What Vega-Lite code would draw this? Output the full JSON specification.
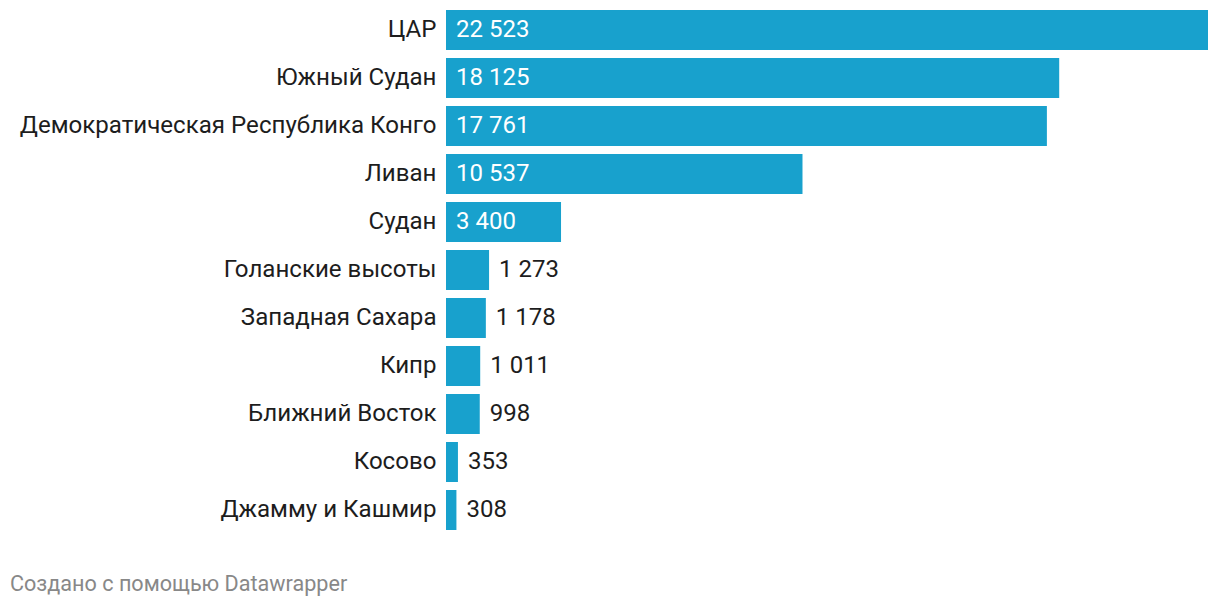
{
  "$schema": "https://vega.github.io/schema/vega-lite/v6.json",
  "autosize": {"type": "none"},
  "padding": {"left": 446, "top": 6, "right": 12, "bottom": 72},
  "width": 762,
  "height": 528,
  "background": "#ffffff",
  "config": {
    "view": {"stroke": null},
    "font": "Roboto",
    "locale": {"number": {"decimal": ",", "thousands": " ", "grouping": [3], "currency": ["", ""]}}
  },
  "title": {
    "text": "Создано с помощью Datawrapper",
    "orient": "bottom",
    "anchor": "start",
    "frame": "group",
    "dx": -436,
    "offset": 57,
    "baseline": "alphabetic",
    "fontSize": 21.6,
    "fontWeight": "normal",
    "color": "#888888",
    "font": "Roboto"
  },
  "data": {
    "values": [
      {"country": "ЦАР", "value": 22523},
      {"country": "Южный Судан", "value": 18125},
      {"country": "Демократическая Республика Конго", "value": 17761},
      {"country": "Ливан", "value": 10537},
      {"country": "Судан", "value": 3400},
      {"country": "Голанские высоты", "value": 1273},
      {"country": "Западная Сахара", "value": 1178},
      {"country": "Кипр", "value": 1011},
      {"country": "Ближний Восток", "value": 998},
      {"country": "Косово", "value": 353},
      {"country": "Джамму и Кашмир", "value": 308}
    ]
  },
  "encoding": {
    "y": {
      "field": "country",
      "type": "nominal",
      "sort": null,
      "scale": {"paddingInner": 0.16667, "paddingOuter": 0.08333},
      "axis": {
        "title": null,
        "ticks": false,
        "domain": false,
        "labelPadding": 10,
        "labelFontSize": 24.1,
        "labelColor": "#1d1d1d",
        "labelFont": "Roboto",
        "labelLimit": 0
      }
    }
  },
  "layer": [
    {
      "mark": {"type": "bar", "color": "#18a1cd"},
      "encoding": {
        "x": {"field": "value", "type": "quantitative", "scale": {"domain": [0, 22523], "nice": false, "zero": true}, "axis": null}
      }
    },
    {
      "transform": [{"filter": "datum.value > 2000"}],
      "mark": {"type": "text", "align": "left", "baseline": "middle", "dx": 10, "fontSize": 24, "color": "#ffffff"},
      "encoding": {
        "x": {"datum": 0, "type": "quantitative"},
        "text": {"field": "value", "type": "quantitative", "format": ",d"}
      }
    },
    {
      "transform": [{"filter": "datum.value <= 2000"}],
      "mark": {"type": "text", "align": "left", "baseline": "middle", "dx": 10, "fontSize": 24, "color": "#1d1d1d"},
      "encoding": {
        "x": {"field": "value", "type": "quantitative"},
        "text": {"field": "value", "type": "quantitative", "format": ",d"}
      }
    }
  ]
}
